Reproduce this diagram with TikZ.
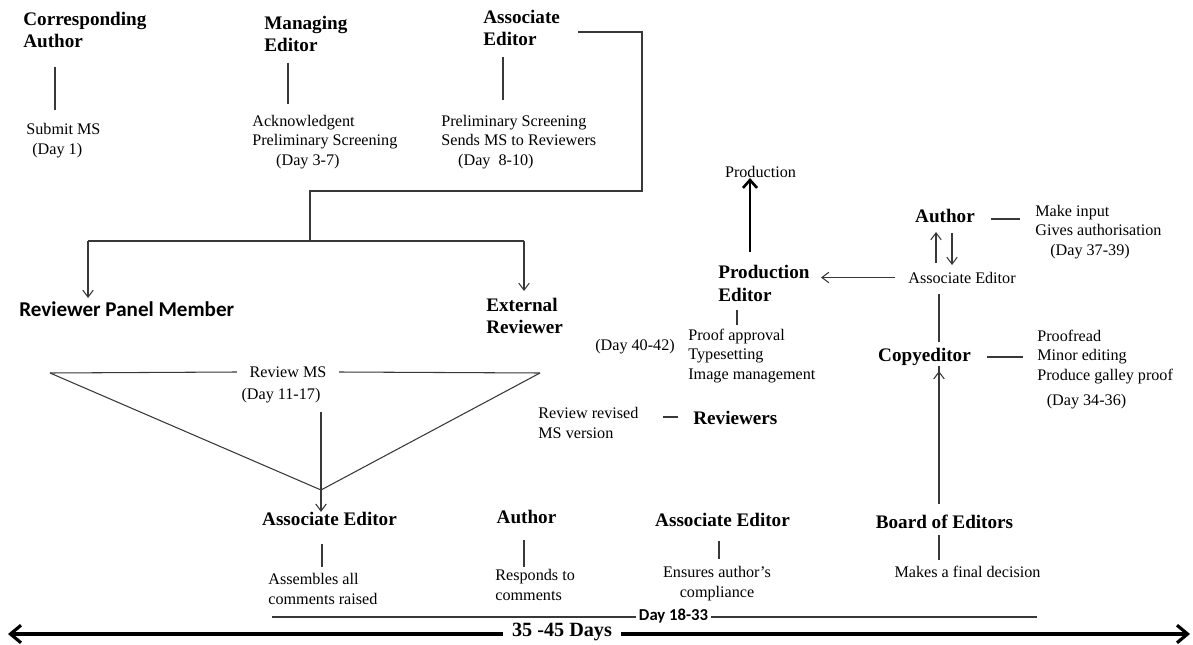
\documentclass[tikz,border=0pt]{standalone}
\usepackage{fontspec}
\setmainfont{Liberation Serif}
\newfontfamily\carlitofont{Carlito}
\usetikzlibrary{arrows.meta}
\begin{document}
\begin{tikzpicture}[x=0.02cm,y=-0.02cm,
  hd/.style={font=\fontsize{10.9}{12.6}\selectfont\bfseries, inner sep=0pt, align=left},
  tx/.style={font=\fontsize{9.2}{11.3}\selectfont, inner sep=0pt, align=left},
  cb/.style={font=\carlitofont\fontsize{12}{14}\selectfont\bfseries, inner sep=0pt},
  ln/.style={draw=black!78, line width=0.6pt},
  arr/.style={ln, -{Straight Barb[length=4pt,width=6pt]}},
  thickarr/.style={draw=black, line width=1.5pt, -{Straight Barb[length=4.5pt,width=8pt]}},
  bigarr/.style={draw=black, line width=1.8pt, -{Straight Barb[length=6pt,width=10pt]}}
  ]
\useasboundingbox[fill=white] (0,0) rectangle (1193,645);

% --- top row ---
\node[hd, anchor=west] (ca) at (23,30) {Corresponding\\Author};
\node[tx, anchor=west] (sub) at (26,141) {Submit MS\\\hspace*{3.4pt}(Day 1)};
\coordinate (ca1) at (55,67); \coordinate (ca2) at (55,110);
\draw[ln] (ca1) -- (ca2);

\node[hd, anchor=west] (me) at (264,34) {Managing\\Editor};
\node[tx, anchor=west] (ack) at (252,142) {Acknowledgent\\Preliminary Screening\\\hspace*{13.6pt}(Day 3-7)};
\coordinate (me1) at (288,63); \coordinate (me2) at (288,104);
\draw[ln] (me1) -- (me2);

\node[hd, anchor=west] (ae0) at (483,28) {Associate\\Editor};
\node[tx, anchor=west] (ps) at (441,142) {Preliminary Screening\\Sends MS to Reviewers\\\hspace*{9.6pt}(Day\ \ 8-10)};
\coordinate (ae01) at (503,57); \coordinate (ae02) at (503,100);
\draw[ln] (ae01) -- (ae02);

% --- bracket to reviewers ---
\coordinate (b1) at (578,32);
\coordinate (bs) at (310,241);
\coordinate (bl) at (88,241);
\coordinate (br) at (524,241);
\draw[ln] (b1) -- (642,32) -- (642,191) -- (310,191) -- (bs);
\draw[ln] (bl) -- (br);

\node[cb, anchor=west] (rpm) at (19,309) {Reviewer Panel Member};
\node[hd, anchor=west] (ext) at (486,316) {External\\Reviewer};
\coordinate (rpmt) at (88,298);
\coordinate (extt) at (524,291);
\draw[arr] (bl) -- (rpmt);
\draw[arr] (br) -- (extt);

% --- review triangle ---
\coordinate (tl) at (50,373);
\coordinate (tr) at (540,373);
\coordinate (apex) at (321,490);
\node[tx, inner xsep=7pt] (rms) at (288,372) {Review MS};
\draw[ln] (tl) -- (rms.west);
\draw[ln] (rms.east) -- (tr);
\draw[ln] (tl) -- (apex) -- (tr);
\node[tx] (d1117) at (281,396) {(Day 11-17)};
\coordinate (va) at (321,412);

% --- bottom row ---
\node[hd] (ae1) at (329.5,519) {Associate Editor};
\draw[arr] (va) -- (va |- ae1.north);
\node[tx, anchor=west] (asm) at (268,589) {Assembles all\\comments raised};
\draw[ln] (322,544) -- (322,567);

\node[hd] (au1) at (526.5,517) {Author};
\node[tx, anchor=west] (resp) at (495,585) {Responds to\\comments};
\draw[ln] (524,540) -- (524,567);

\node[hd] (ae2) at (722.5,520) {Associate Editor};
\node[tx, align=center] (ens) at (717,583.5) {Ensures author's\\compliance};
\draw[ln] (719,541) -- (719,559);

\node[hd] (boe) at (944.5,522) {Board of Editors};
\node[tx] (mfd) at (967.5,572) {Makes a final decision};
\draw[ln] (939,535) -- (939,560);

% --- Day 18-33 line ---
\node[font=\carlitofont\fontsize{9.5}{11}\selectfont\bfseries, inner xsep=1.5pt, inner ysep=0pt, anchor=west] (d1833) at (636,616) {Day 18-33};
\coordinate (dl) at (272,617);
\coordinate (dr) at (1037,617);
\draw[ln] (dl) -- (dl -| d1833.west);
\draw[ln] (dr -| d1833.east) -- (dr);

% --- 35-45 days ---
\node[font=\fontsize{11.5}{13}\selectfont\bfseries, inner xsep=5pt, inner ysep=0pt] (days) at (562,632) {35 -45 Days};
\coordinate (gl) at (8,634);
\coordinate (gr) at (1190,634);
\draw[bigarr] (gl -| days.west) -- (gl);
\draw[bigarr] (gr -| days.east) -- (gr);

% --- reviewers (revised) ---
\node[tx, anchor=west] (rr) at (538,423) {Review revised\\MS version};
\node[hd, anchor=west] (rev) at (693,418) {Reviewers};
\draw[ln] (663,417) -- (678,417);

% --- production ---
\node[hd, anchor=west] (pe) at (718,283.5) {Production\\Editor};
\node[tx] (prod) at (760.5,172) {Production};
\coordinate (pa0) at (750,252);
\draw[thickarr] (pa0) -- (pa0 |- prod.south);
\node[tx, anchor=west] (pa) at (688,356) {Proof approval\\Typesetting\\Image management};
\draw[ln] (737,310) -- (737,325);
\node[tx] (d4042) at (635,347) {(Day 40-42)};

% --- right column ---
\node[tx, anchor=west] (ae3) at (908,278) {Associate Editor};
\coordinate (pet) at (821,277.5);
\draw[arr] (ae3.west |- pet) ++(-13,0) -- (pet);
\node[hd] (au2) at (945,216) {Author};
\draw[arr] (936,263) -- (936,232);
\draw[arr] (952,233) -- (952,265);
\draw[ln] (991,219) -- (1020,219);
\node[tx, anchor=west] (mi) at (1035,232) {Make input\\Gives authorisation\\\hspace*{8.5pt}(Day 37-39)};

\node[hd] (ce) at (924.5,357) {Copyeditor};
\draw[ln] (939,294) -- (939,342);
\draw[ln] (987,357) -- (1023,357);
\node[tx, anchor=west] (pr) at (1037,357) {Proofread\\Minor editing\\Produce galley proof};
\node[tx] (d3436) at (1086.5,402) {(Day 34-36)};
\coordinate (bu) at (939,504);
\draw[arr] (bu) -- (bu |- ce.south) ++(0,5);
\end{tikzpicture}
\end{document}
